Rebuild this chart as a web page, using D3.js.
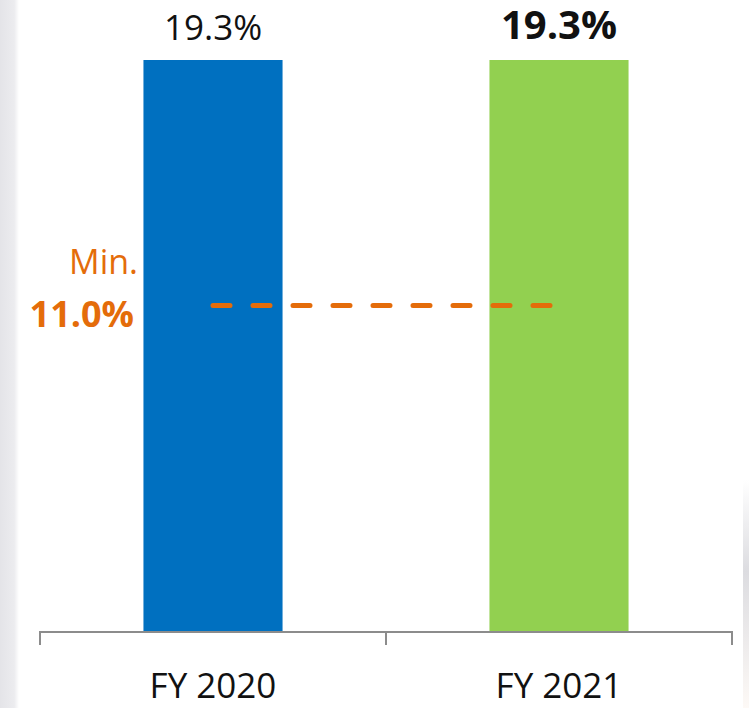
<!DOCTYPE html>
<html>
<head>
<meta charset="utf-8">
<script src="https://cdn.jsdelivr.net/npm/d3@7"></script>
<style>
  html, body { margin: 0; padding: 0; background: #fff; }
  svg { display: block; font-family: "Open Sans", "Noto Sans", sans-serif; }
</style>
</head>
<body>
<div id="chart"></div>
<script>
const categories = ["FY 2020", "FY 2021"];
const values = [19.3, 19.3];
const valueLabels = ["19.3%", "19.3%"];
const barColors = ["#0070C0", "#92D050"];
const minValue = 11.0;
const minLabel = ["Min.", "11.0%"];

const width = 749;
const height = 708;
const orange = "#E46C0A";

const svg = d3.select("#chart")
  .append("svg")
  .attr("width", width)
  .attr("height", height);

// soft grey shading at the page edges
const defs = svg.append("defs");
const lg = defs.append("linearGradient").attr("id", "edgeL");
lg.append("stop").attr("offset", "0%").attr("stop-color", "#e4e4e8");
lg.append("stop").attr("offset", "75%").attr("stop-color", "#ececef");
lg.append("stop").attr("offset", "100%").attr("stop-color", "#ffffff");
const rg = defs.append("linearGradient").attr("id", "edgeR")
  .attr("x1", "0%").attr("x2", "0%").attr("y1", "0%").attr("y2", "100%");
rg.append("stop").attr("offset", "0%").attr("stop-color", "#ffffff");
rg.append("stop").attr("offset", "40%").attr("stop-color", "#dcdce0");
rg.append("stop").attr("offset", "100%").attr("stop-color", "#fdf9f6");

svg.append("rect").attr("x", 0).attr("y", 0).attr("width", 19).attr("height", height)
  .attr("fill", "url(#edgeL)");
svg.append("rect").attr("x", 743).attr("y", 480).attr("width", 6).attr("height", 228)
  .attr("fill", "url(#edgeR)");

// scales
const x = d3.scaleBand()
  .domain(categories)
  .range([40, 732])
  .paddingInner(0.598)
  .paddingOuter(0.299);

const y = d3.scaleLinear()
  .domain([0, d3.max(values)])
  .range([631, 60]);

// bars
svg.selectAll("rect.bar")
  .data(values)
  .enter()
  .append("rect")
  .attr("class", "bar")
  .attr("x", (d, i) => x(categories[i]))
  .attr("y", d => y(d))
  .attr("width", x.bandwidth())
  .attr("height", d => y(0) - y(d))
  .attr("fill", (d, i) => barColors[i]);

// value labels
svg.selectAll("text.value")
  .data(values)
  .enter()
  .append("text")
  .attr("class", "value")
  .attr("x", (d, i) => x(categories[i]) + x.bandwidth() / 2)
  .attr("y", (d, i) => y(d) - (i === 1 ? 21 : 20))
  .attr("text-anchor", "middle")
  .attr("font-size", (d, i) => i === 1 ? 40 : 35)
  .attr("font-weight", (d, i) => i === 1 ? 700 : 400)
  .attr("fill", "#111")
  .text((d, i) => valueLabels[i]);

// x axis: line with ticks at band edges
const axisColor = "#8c8c8c";
const r = x.range();
svg.append("line")
  .attr("x1", r[0]).attr("x2", r[1])
  .attr("y1", y(0) + 1).attr("y2", y(0) + 1)
  .attr("stroke", axisColor).attr("stroke-width", 2);

const edges = d3.range(categories.length + 1).map(i => r[0] + i * x.step());
svg.selectAll("line.tick")
  .data(edges)
  .enter()
  .append("line")
  .attr("class", "tick")
  .attr("x1", d => d).attr("x2", d => d)
  .attr("y1", y(0)).attr("y2", y(0) + 14)
  .attr("stroke", axisColor).attr("stroke-width", 2);

svg.selectAll("text.cat")
  .data(categories)
  .enter()
  .append("text")
  .attr("class", "cat")
  .attr("x", d => x(d) + x.bandwidth() / 2)
  .attr("y", 698)
  .attr("text-anchor", "middle")
  .attr("font-size", 35)
  .attr("fill", "#111")
  .text(d => d);

// minimum line
const lineStart = x(categories[0]) + x.bandwidth() / 2;
const lineEnd = x(categories[categories.length - 1]) + x.bandwidth() / 2;
svg.append("line")
  .attr("x1", lineStart).attr("x2", lineEnd)
  .attr("y1", y(minValue)).attr("y2", y(minValue))
  .attr("stroke", orange)
  .attr("stroke-width", 5)
  .attr("stroke-linecap", "round")
  .attr("stroke-dasharray", "17 23");

svg.append("text")
  .attr("x", 138)
  .attr("y", y(minValue) - 32)
  .attr("text-anchor", "end")
  .attr("font-size", 34)
  .attr("fill", orange)
  .text(minLabel[0]);

svg.append("text")
  .attr("x", 134)
  .attr("y", y(minValue) + 21)
  .attr("text-anchor", "end")
  .attr("font-size", 36)
  .attr("font-weight", 700)
  .attr("fill", orange)
  .text(minLabel[1]);
</script>
</body>
</html>
